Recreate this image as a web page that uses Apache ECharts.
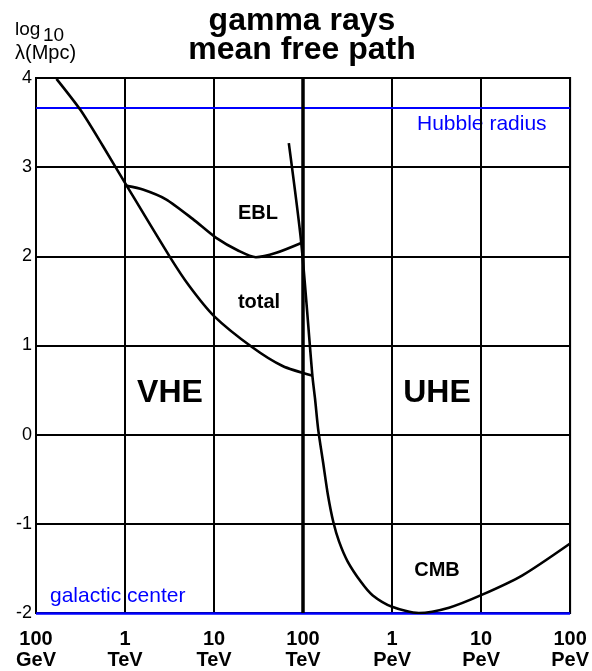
<!DOCTYPE html>
<html>
<head>
<meta charset="utf-8">
<script src="https://cdn.jsdelivr.net/npm/echarts@6/dist/echarts.min.js"></script>
<style>
  html, body { margin: 0; padding: 0; background: #fff; }
</style>
</head>
<body>
<div id="main" style="width:592px;height:671px;"></div>
<script type="text/javascript">
// x = log10(E / eV), y = log10(lambda / Mpc)
var xTickNum = ['100', '1', '10', '100', '1', '10', '100'];
var xTickUnit = ['GeV', 'TeV', 'TeV', 'TeV', 'PeV', 'PeV', 'PeV'];

var totalCurve = [
    [11.23, 3.99], [11.50, 3.64], [11.75, 3.24], [12.02, 2.79], [12.50, 2.00],
    [12.72, 1.67], [13.00, 1.33], [13.43, 0.98], [13.77, 0.77], [14.11, 0.66]
];
var eblCurve = [
    [12.02, 2.79], [12.20, 2.75], [12.46, 2.64], [12.76, 2.42], [13.02, 2.21],
    [13.28, 2.06], [13.47, 1.99], [13.70, 2.04], [13.98, 2.15]
];
var cmbCurve = [
    [13.84, 3.27], [13.98, 2.15], [14.105, 0.66], [14.135, 0.40], [14.17, 0.06],
    [14.225, -0.31], [14.28, -0.68], [14.34, -0.98], [14.405, -1.20], [14.50, -1.42],
    [14.65, -1.65], [14.78, -1.80], [15.00, -1.93], [15.30, -2.00], [15.64, -1.94],
    [16.00, -1.80], [16.46, -1.58], [17.00, -1.22]
];
var hubbleRadius = 3.67;   // log10 Mpc
var galacticCenter = -2;   // log10 Mpc
var boundaryE = 14;        // 100 TeV

var FONT = '"Liberation Sans", Arial, sans-serif';

var myEcharts = echarts.init(document.getElementById('main'));

function curve(name, data) {
    return {
        name: name,
        type: 'line',
        data: data,
        smooth: 0.25,
        symbol: 'none',
        lineStyle: {color: '#000', width: 2.6},
        z: 5
    };
}

// text placed by its vertical middle
function label(text, x, y, font, color, align) {
    return {
        type: 'text', x: x, y: y,
        style: {text: text, font: font + ' ' + FONT, fill: color || '#000',
                align: align || 'left', verticalAlign: 'middle'}
    };
}

var option = {
    animation: false,
    backgroundColor: '#fff',
    grid: {
        left: 36, right: 21, top: 78, bottom: 57,
        show: true, borderColor: '#000', borderWidth: 2
    },
    xAxis: {
        type: 'value', min: 11, max: 17, interval: 1,
        axisLine: {show: false},
        axisTick: {show: false},
        splitLine: {show: true, lineStyle: {color: '#000', width: 2}},
        axisLabel: {
            margin: 16,
            fontFamily: FONT, fontSize: 20, fontWeight: 'bold', color: '#000',
            lineHeight: 21,
            formatter: function (v) {
                var i = Math.round(v - 11);
                return xTickNum[i] + '\n' + xTickUnit[i];
            }
        }
    },
    yAxis: {
        type: 'value', min: -2, max: 4, interval: 1,
        axisLine: {show: true, onZero: false, lineStyle: {color: '#000', width: 2}},
        axisTick: {show: false},
        splitLine: {show: true, lineStyle: {color: '#000', width: 2}},
        axisLabel: {margin: 4, fontFamily: FONT, fontSize: 18, color: '#000'}
    },
    graphic: [
        label('gamma rays', 302, 21, 'bold 32px', '#000', 'center'),
        label('mean free path', 302, 50, 'bold 32px', '#000', 'center'),
        label('log', 15, 30, '19px'),
        label('10', 43, 36, '19px'),
        label('λ(Mpc)', 15, 53, '20px'),
        label('Hubble radius', 417, 124, '21px', '#0000ff'),
        label('galactic center', 50, 596, '21px', '#0000ff'),
        label('VHE', 170, 393, 'bold 32px', '#000', 'center'),
        label('UHE', 437, 393, 'bold 32px', '#000', 'center'),
        label('EBL', 258, 213, 'bold 20px', '#000', 'center'),
        label('total', 259, 302, 'bold 20px', '#000', 'center'),
        label('CMB', 437, 570, 'bold 20px', '#000', 'center')
    ],
    series: [
        curve('total', totalCurve),
        curve('EBL', eblCurve),
        curve('CMB', cmbCurve),
        {
            // reference lines
            type: 'line',
            data: [],
            markLine: {
                silent: true,
                symbol: 'none',
                label: {show: false},
                data: [
                    {yAxis: hubbleRadius, lineStyle: {color: '#0000ff', width: 2, type: 'solid'}},
                    {yAxis: galacticCenter, lineStyle: {color: '#0000ff', width: 2.5, type: 'solid'}},
                    {xAxis: boundaryE, lineStyle: {color: '#000', width: 3.5, type: 'solid'}}
                ]
            },
            z: 4
        }
    ]
};
myEcharts.setOption(option);
</script>
</body>
</html>
